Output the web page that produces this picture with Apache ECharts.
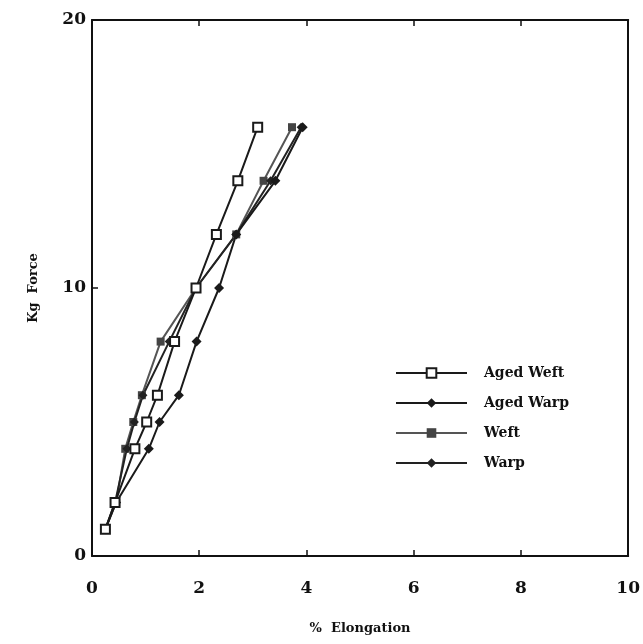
<!DOCTYPE html>
<html>
<head>
<meta charset="utf-8">
<script src="https://cdn.jsdelivr.net/npm/echarts@6/dist/echarts.min.js"></script>
<style>html,body{margin:0;padding:0;background:#fff;}#c{width:643px;height:644px;}</style>
</head>
<body>
<div id="c"></div>
<script>
var forceLevels = [1, 2, 4, 5, 6, 8, 10, 12, 14, 16];
var agedWeftElong = [0.25, 0.43, 0.8, 1.02, 1.22, 1.54, 1.94, 2.32, 2.72, 3.09];
var agedWarpElong = [0.25, 0.45, 1.06, 1.26, 1.62, 1.95, 2.37, 2.69, 3.42, 3.93];
var weftElong     = [0.25, 0.45, 0.62, 0.77, 0.93, 1.28, 1.94, 2.69, 3.2, 3.73];
var warpElong     = [0.25, 0.43, 0.65, 0.79, 0.95, 1.44, 1.94, 2.69, 3.33, 3.9];
var xTicks = [0, 2, 4, 6, 8, 10];
var yTicks = [0, 10, 20];

function pairs(xs, ys) { return xs.map(function (x, i) { return [x, ys[i]]; }); }

var serifFont = '"DejaVu Serif", "Liberation Serif", serif';
var chart = echarts.init(document.getElementById('c'));
chart.setOption({
  animation: false,
  backgroundColor: '#fff',
  grid: { left: 92, right: 11, top: 20, bottom: 88 },
  legend: {
    orient: 'vertical', left: 390, top: 361,
    itemWidth: 71, itemHeight: 12, itemGap: 16,
    textStyle: { fontFamily: serifFont, fontWeight: 'bold', fontSize: 14, color: '#111', padding: [0, 0, 0, 12] },
    data: ['Aged Weft', 'Aged Warp', 'Weft', 'Warp']
  },
  xAxis: [{
    type: 'value', min: 0, max: 10, interval: 2, position: 'bottom',
    axisLine: { onZero: false, lineStyle: { color: '#111', width: 2 } },
    axisTick: { inside: true, length: 6, lineStyle: { color: '#111', width: 1.5 } },
    axisLabel: { fontFamily: serifFont, fontWeight: 'bold', fontSize: 17, color: '#111', margin: 24,
      formatter: function (v) { return xTicks.indexOf(v) >= 0 ? String(v) : ''; } },
    splitLine: { show: false },
    name: '%  Elongation', nameLocation: 'middle', nameGap: 66,
    nameTextStyle: { fontFamily: serifFont, fontWeight: 'bold', fontSize: 13, color: '#111' }
  }, {
    type: 'value', min: 0, max: 10, interval: 2, position: 'top',
    axisLine: { onZero: false, lineStyle: { color: '#111', width: 2 } },
    axisTick: { inside: true, length: 6, lineStyle: { color: '#111', width: 1.5 } },
    axisLabel: { show: false }, splitLine: { show: false }
  }],
  yAxis: [{
    type: 'value', min: 0, max: 20, interval: 10, position: 'left',
    axisLine: { show: true, onZero: false, lineStyle: { color: '#111', width: 2 } },
    axisTick: { show: true, inside: true, length: 6, lineStyle: { color: '#111', width: 1.5 } },
    axisLabel: { fontFamily: serifFont, fontWeight: 'bold', fontSize: 17, color: '#111', margin: 6,
      formatter: function (v) { return yTicks.indexOf(v) >= 0 ? String(v) : ''; } },
    splitLine: { show: false },
    name: 'Kg  Force', nameLocation: 'middle', nameGap: 52,
    nameTextStyle: { fontFamily: serifFont, fontWeight: 'bold', fontSize: 13, color: '#111' }
  }, {
    type: 'value', min: 0, max: 20, interval: 10, position: 'right',
    axisLine: { show: true, onZero: false, lineStyle: { color: '#111', width: 2 } },
    axisTick: { show: false }, axisLabel: { show: false }, splitLine: { show: false }
  }],
  series: [{
    name: 'Aged Weft', type: 'line', data: pairs(agedWeftElong, forceLevels),
    symbol: 'rect', symbolSize: 9, showAllSymbol: true,
    lineStyle: { color: '#1a1a1a', width: 2 },
    itemStyle: { color: '#fff', borderColor: '#1a1a1a', borderWidth: 2 }, z: 5
  }, {
    name: 'Aged Warp', type: 'line', data: pairs(agedWarpElong, forceLevels),
    symbol: 'diamond', symbolSize: 10, showAllSymbol: true,
    lineStyle: { color: '#1a1a1a', width: 2 },
    itemStyle: { color: '#1a1a1a' }, z: 4
  }, {
    name: 'Weft', type: 'line', data: pairs(weftElong, forceLevels),
    symbol: 'rect', symbolSize: 8, showAllSymbol: true,
    lineStyle: { color: '#555', width: 2 },
    itemStyle: { color: '#444' }, z: 3
  }, {
    name: 'Warp', type: 'line', data: pairs(warpElong, forceLevels),
    symbol: 'diamond', symbolSize: 9, showAllSymbol: true,
    lineStyle: { color: '#222', width: 2 },
    itemStyle: { color: '#222' }, z: 3
  }]
});
</script>
</body>
</html>
